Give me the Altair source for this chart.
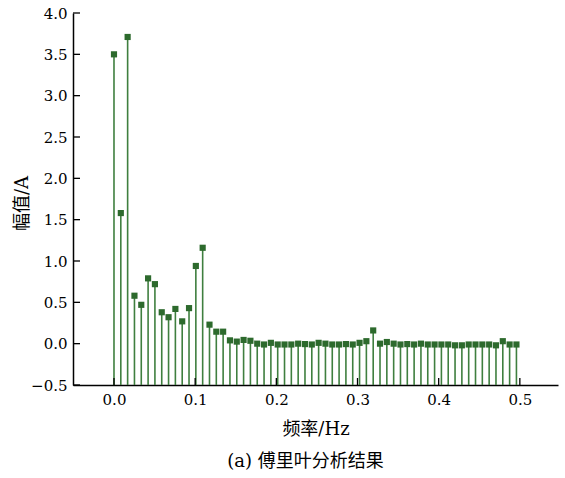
import altair as alt
import pandas as pd

# FFT bin count and spectrum magnitudes (one per bin, 0 .. 59)
n_samples = 119
amplitude = [
    3.50, 1.58, 3.71, 0.58, 0.47, 0.79, 0.72, 0.38, 0.32, 0.42,
    0.27, 0.43, 0.94, 1.16, 0.23, 0.145, 0.145, 0.04, 0.025, 0.045,
    0.035, 0.0, -0.01, 0.01, -0.01, -0.01, -0.01, 0.0, -0.005, -0.01,
    0.01, 0.0, -0.01, -0.01, -0.005, -0.01, 0.01, 0.03, 0.16, 0.0,
    0.02, 0.0, -0.01, -0.005, -0.01, 0.0, -0.01, -0.01, -0.01, -0.01,
    -0.02, -0.02, -0.01, -0.01, -0.01, -0.01, -0.02, 0.03, -0.01, -0.01,
]
frequency = [k / n_samples for k in range(len(amplitude))]

x_ticks = [0.0, 0.1, 0.2, 0.3, 0.4, 0.5]
y_ticks = [-0.5, 0.0, 0.5, 1.0, 1.5, 2.0, 2.5, 3.0, 3.5, 4.0]

W, H = 485, 372
num_font = "DejaVu Serif"
text_font = "'DejaVu Serif', 'Noto Sans CJK SC'"

df = pd.DataFrame({"f": frequency, "a": amplitude})
xt = pd.DataFrame({"t": x_ticks})
yt = pd.DataFrame({"t": y_ticks})

x_scale = alt.Scale(domain=[-0.0505, 0.547], nice=False, zero=False)
y_scale = alt.Scale(domain=[-0.5, 4.0], nice=False, zero=False)

x_axis = alt.Axis(
    values=x_ticks, format=".1f", tickSize=0, grid=False,
    labelFont=num_font, labelFontSize=15, labelColor="black", labelPadding=7,
    domainColor="black", domainWidth=1.5,
    title="频率/Hz", titleFont=text_font, titleFontSize=18, titleFontWeight="normal",
    titleColor="black", titleBaseline="middle", titleY=44,
)
y_axis = alt.Axis(
    values=y_ticks, format=".1f", tickSize=0, grid=False,
    labelFont=num_font, labelFontSize=15, labelColor="black", labelPadding=6,
    domainColor="black", domainWidth=1.5,
    title="幅值/A", titleFont=text_font, titleFontSize=18, titleFontWeight="normal",
    titleColor="black", titleBaseline="middle", titleX=-51, titleY=190,
)

base = alt.Chart(df)

stems = base.mark_rule(color="#3f7f3f", strokeWidth=1.6).encode(
    x=alt.X("f:Q", scale=x_scale, axis=x_axis),
    y=alt.Y("a:Q", scale=y_scale, axis=y_axis),
    y2=alt.datum(-0.5),
)

markers = base.mark_square(size=38, color="#2d6a2d", opacity=1).encode(
    x=alt.X("f:Q", scale=x_scale),
    y=alt.Y("a:Q", scale=y_scale),
)

# inward-pointing tick marks
x_tick_marks = alt.Chart(xt).mark_rule(color="black", strokeWidth=1.3).encode(
    x=alt.X("t:Q", scale=x_scale),
    y=alt.value(H),
    y2=alt.value(H - 7),
)
y_tick_marks = alt.Chart(yt).mark_rule(color="black", strokeWidth=1.3).encode(
    y=alt.Y("t:Q", scale=y_scale),
    x=alt.value(0),
    x2=alt.value(7),
)

chart = alt.layer(stems, markers, x_tick_marks, y_tick_marks).properties(
    width=W,
    height=H,
    title=alt.TitleParams(
        "(a) 傅里叶分析结果", orient="bottom", anchor="middle",
        font=text_font, fontSize=18, fontWeight="normal", color="black",
        offset=15, dx=-10,
    ),
    autosize=alt.AutoSizeParams(type="none"),
    padding={"left": 73, "top": 13, "right": 7, "bottom": 93},
).configure(background="white").configure_view(stroke=None)

chart.save("out.html", embed_options={"renderer": "svg", "actions": False})
